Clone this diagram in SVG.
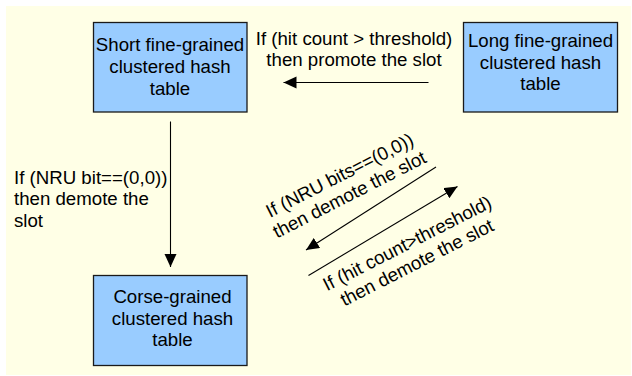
<svg xmlns="http://www.w3.org/2000/svg" width="632" height="376" viewBox="0 0 632 376">
  <style>
    .box { fill: #99CCFF; stroke: #1a1a1a; stroke-width: 1.3; }
    .lbl { font-family: "Liberation Sans", Arial, sans-serif; font-size: 18.67px; fill: #000; }
    .mid { text-anchor: middle; }
    .edge { stroke: #000; stroke-width: 1.1; fill: none; }
  </style>
  <defs>
    <marker id="arrow" markerUnits="userSpaceOnUse" markerWidth="14" markerHeight="13" refX="13" refY="6" orient="auto">
      <path d="M0,0 L13,6 L0,12 z" fill="#000"/>
    </marker>
  </defs>

  <!-- page background -->
  <rect x="6" y="6" width="625" height="369" fill="#FFFFE6"/>

  <g id="short-table">
    <rect class="box" x="93.5" y="22.5" width="153.5" height="89.5"/>
    <text class="lbl mid" x="170" y="51">Short fine-grained</text>
    <text class="lbl mid" x="170" y="73">clustered hash</text>
    <text class="lbl mid" x="170" y="94.5">table</text>
  </g>

  <g id="long-table">
    <rect class="box" x="463.5" y="22.5" width="154" height="89.5"/>
    <text class="lbl mid" x="540.5" y="47">Long fine-grained</text>
    <text class="lbl mid" x="540.5" y="68.5">clustered hash</text>
    <text class="lbl mid" x="540.5" y="90">table</text>
  </g>

  <g id="coarse-table">
    <rect class="box" x="93.5" y="275.5" width="153.5" height="90"/>
    <text class="lbl mid" x="172.5" y="303">Corse-grained</text>
    <text class="lbl mid" x="172.5" y="324.5">clustered hash</text>
    <text class="lbl mid" x="172.5" y="346">table</text>
  </g>

  <g id="connectors">
    <!-- promote: long -> short -->
    <line class="edge" x1="428.5" y1="82.5" x2="283.5" y2="82.5" marker-end="url(#arrow)"/>
    <!-- demote: short -> coarse -->
    <line class="edge" x1="170.5" y1="121.5" x2="170.5" y2="267" marker-end="url(#arrow)"/>
    <!-- demote: long -> coarse (diagonal) -->
    <line class="edge" x1="436" y1="167" x2="306" y2="250" marker-end="url(#arrow)"/>
    <!-- demote: coarse side -> long (diagonal) -->
    <line class="edge" x1="308.5" y1="275.5" x2="457.5" y2="186.5" marker-end="url(#arrow)"/>
  </g>

  <g id="labels">
    <text class="lbl mid" x="354" y="45">If (hit count &gt; threshold)</text>
    <text class="lbl mid" x="354" y="66">then promote the slot</text>

    <text class="lbl" x="14" y="183.5">If (NRU bit==(0,0))</text>
    <text class="lbl" x="14" y="205">then demote the</text>
    <text class="lbl" x="14" y="226.5">slot</text>

    <g transform="translate(342.6,181) rotate(-27)">
      <text class="lbl mid" x="0" y="0">If (NRU bits==(0,0))</text>
      <text class="lbl mid" x="0" y="21.5">then demote the slot</text>
    </g>

    <g transform="translate(410,249) rotate(-27)">
      <text class="lbl mid" x="0" y="0">If (hit count&gt;threshold)</text>
      <text class="lbl mid" x="0" y="21.5">then demote the slot</text>
    </g>
  </g>
</svg>
